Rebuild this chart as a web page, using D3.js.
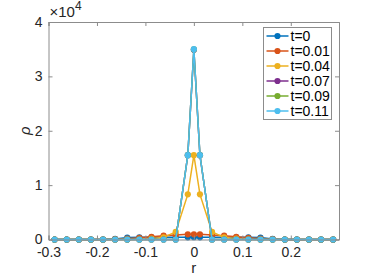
<!DOCTYPE html>
<html>
<head>
<meta charset="utf-8">
<script src="https://cdn.jsdelivr.net/npm/d3@7"></script>
<style>
  body { margin: 0; background: #fff; }
  svg { font-family: "Liberation Sans", Arial, sans-serif; }
</style>
</head>
<body>
<div id="chart"></div>
<script>
// radial grid (cell centres, plus r = 0)
const r = [-0.2875, -0.2625, -0.2375, -0.2125, -0.1875, -0.1625, -0.1375, -0.1125, -0.0875, -0.0625, -0.0375, -0.0125,
           0, 0.0125, 0.0375, 0.0625, 0.0875, 0.1125, 0.1375, 0.1625, 0.1875, 0.2125, 0.2375, 0.2625, 0.2875];

const seriesNames = ["t=0", "t=0.01", "t=0.04", "t=0.07", "t=0.09", "t=0.11"];
const colors = ["#0072BD", "#D95319", "#EDB120", "#7E2F8E", "#77AC30", "#4DBEEE"];

const rho_t0    = [0, 0, 0, 0, 0, 100, 350, 400, 400, 400, 400, 400, 420, 400, 400, 400, 400, 400, 350, 100, 0, 0, 0, 0, 0];
const rho_t001  = [0, 0, 0, 0, 0, 60, 150, 300, 500, 700, 850, 950, 950, 950, 850, 700, 500, 300, 150, 60, 0, 0, 0, 0, 0];
const rho_t004  = [0, 0, 0, 0, 0, 0, 20, 50, 150, 400, 1400, 8300, 15500, 8300, 1400, 400, 150, 50, 20, 0, 0, 0, 0, 0, 0];
const rho_t007  = [0, 0, 0, 0, 0, 0, 0, 0, 0, 0, 0, 15500, 34900, 15500, 0, 0, 0, 0, 0, 0, 0, 0, 0, 0, 0];
const rho_t009  = [0, 0, 0, 0, 0, 0, 0, 0, 0, 0, 0, 15500, 34950, 15500, 0, 0, 0, 0, 0, 0, 0, 0, 0, 0, 0];
const rho_t011  = [0, 0, 0, 0, 0, 0, 0, 0, 0, 0, 0, 15500, 35000, 15500, 0, 0, 0, 0, 0, 0, 0, 0, 0, 0, 0];
const allRho = [rho_t0, rho_t001, rho_t004, rho_t007, rho_t009, rho_t011];

const xTicks = [-0.3, -0.2, -0.1, 0, 0.1, 0.2];
const yTicks = [0, 1e4, 2e4, 3e4, 4e4];

const W = 374, H = 280;
const margin = { top: 22, right: 35, bottom: 40.5, left: 48.5 };
const width = W - margin.left - margin.right,
      height = H - margin.top - margin.bottom;

const svg = d3.select("#chart").append("svg")
    .attr("width", W).attr("height", H);

const g = svg.append("g")
    .attr("transform", `translate(${margin.left},${margin.top})`);

const x = d3.scaleLinear().domain([-0.3, 0.2995]).range([0, width]);
const y = d3.scaleLinear().domain([0, 4e4]).range([height, 0]);

const axisColor = "#8c8c8c";

// clip so the lines do not bleed out
g.append("clipPath").attr("id", "clip")
  .append("rect").attr("x", -4).attr("y", -4).attr("width", width + 8).attr("height", height + 8);

const line = d3.line().x((d, i) => x(r[i])).y(d => y(d));

const plot = g.append("g").attr("clip-path", "url(#clip)");
allRho.forEach((vals, k) => {
  plot.append("path")
      .datum(vals)
      .attr("fill", "none")
      .attr("stroke", colors[k])
      .attr("stroke-width", 1.5)
      .attr("d", line);
  plot.selectAll(null)
      .data(vals)
      .enter().append("circle")
      .attr("cx", (d, i) => x(r[i]))
      .attr("cy", d => y(d))
      .attr("r", 3.1)
      .attr("fill", colors[k]);
});

// axes (box on, ticks inside)
const xAxis = g.append("g").attr("transform", `translate(0,${height})`)
    .call(d3.axisBottom(x).tickValues(xTicks).tickSize(-4).tickPadding(8).tickFormat(d3.format("")));
const xTop = g.append("g")
    .call(d3.axisTop(x).tickValues(xTicks).tickSize(-4).tickFormat(""));
const yAxis = g.append("g")
    .call(d3.axisLeft(y).tickValues(yTicks).tickSize(-4).tickPadding(6).tickFormat(d => d / 1e4));
const yRight = g.append("g").attr("transform", `translate(${width},0)`)
    .call(d3.axisRight(y).tickValues(yTicks).tickSize(-4).tickFormat(""));

[xAxis, xTop, yAxis, yRight].forEach(a => {
  a.select(".domain").attr("stroke", axisColor);
  a.selectAll(".tick line").attr("stroke", axisColor);
  a.selectAll("text").attr("fill", "#262626").style("font-size", "14px").style("font-family", "Liberation Sans, Arial, sans-serif");
});
xAxis.selectAll("text").text(d => d === 0 ? "0" : String(d));

// exponent
const expo = svg.append("text")
    .attr("x", margin.left + 1).attr("y", 17)
    .attr("fill", "#262626").style("font-size", "15px");
expo.append("tspan").text("×10");
expo.append("tspan").attr("dy", -7).style("font-size", "12px").text("4");

// axis labels
svg.append("text")
    .attr("x", margin.left + x(0)).attr("y", 273)
    .attr("text-anchor", "middle").attr("fill", "#262626")
    .style("font-size", "15px").text("r");

svg.append("text")
    .attr("transform", `translate(30,${margin.top + height / 2}) rotate(-90)`)
    .attr("text-anchor", "middle").attr("fill", "#262626")
    .style("font-size", "15px").style("font-style", "italic").text("ρ");

// legend
const lg = svg.append("g").attr("transform", "translate(263.5,27.5)");
lg.append("rect")
    .attr("width", 68).attr("height", 92)
    .attr("fill", "#fff").attr("stroke", axisColor).attr("stroke-width", 1);
seriesNames.forEach((name, k) => {
  const yy = 8.5 + k * 15;
  lg.append("line")
      .attr("x1", 3).attr("x2", 25).attr("y1", yy).attr("y2", yy)
      .attr("stroke", colors[k]).attr("stroke-width", 1.5);
  lg.append("circle").attr("cx", 14).attr("cy", yy).attr("r", 3.1).attr("fill", colors[k]);
  lg.append("text")
      .attr("x", 27).attr("y", yy + 5)
      .attr("fill", "#000").style("font-size", "14px").text(name);
});
</script>
</body>
</html>
